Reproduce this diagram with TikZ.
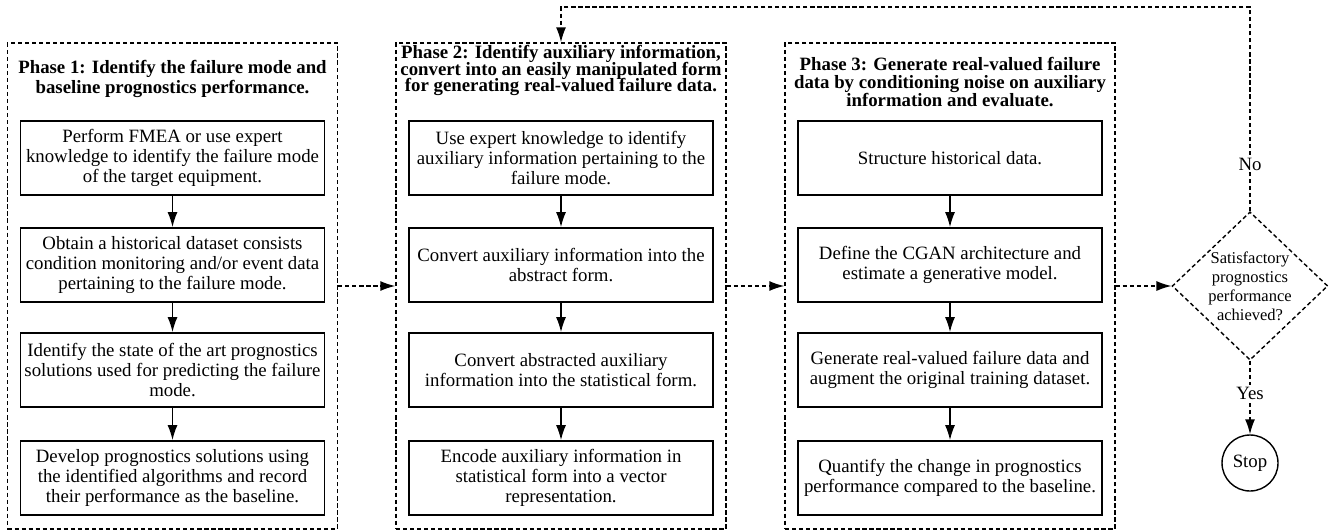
\documentclass[tikz,border=0pt]{standalone}
\usepackage{fontspec}
\setmainfont{Liberation Serif}
\usepackage{tikz}
\usetikzlibrary{shapes.geometric}
\usetikzlibrary{arrows.meta}
\newcommand{\tightskip}{\lineskiplimit=-5pt\relax}

\tikzset{
    phasebox/.style={draw, line width=0.8pt, dash pattern=on 2.4pt off 1.6pt,
        minimum width=6.6cm, minimum height=9.72cm},
    phasetitle/.style={align=center, inner sep=0pt},
    stepbox/.style={draw, line width=1pt, minimum width=6.08cm, minimum height=1.48cm,
        align=center, inner sep=0pt, font=\fontsize{10.7}{11.4}\selectfont},
    flowdash/.style={line width=0.8pt, dash pattern=on 2.4pt off 1.6pt},
    decision/.style={diamond, draw, flowdash, aspect=1.05, inner sep=0pt,
        align=center, font=\fontsize{9.4}{10.8}\selectfont},
    endstate/.style={circle, draw, line width=0.8pt, minimum size=1.12cm, inner sep=0pt,
        font=\fontsize{10.7}{12}\selectfont},
    answer/.style={fill=white, inner sep=1pt, font=\fontsize{10.7}{12}\selectfont}
}

\begin{document}
\begin{tikzpicture}[>={Latex[length=3mm,width=2mm]}, line width=0.8pt]
        \useasboundingbox (0, 0) rectangle (26.7, -10.62);

        % dashed phase frames
        \node[phasebox] (ph1) at (3.45, -5.72) {};
        \node[phasebox] (ph2) at (11.22, -5.72) {};
        \node[phasebox] (ph3) at (19.0, -5.72) {};

        \node[phasetitle, font=\bfseries\fontsize{10.7}{11.4}\selectfont] (t1) at (3.45, -1.58)
            {Phase 1: Identify the failure mode and\\baseline prognostics performance.};
        \node[phasetitle, font=\bfseries\fontsize{10.7}{9.2}\selectfont\tightskip] (t2) at (11.22, -1.41)
            {Phase 2: Identify auxiliary information,\\convert into an easily manipulated form\\for generating real-valued failure data.};
        \node[phasetitle, font=\bfseries\fontsize{10.7}{10.5}\selectfont\tightskip] (t3) at (19.0, -1.64)
            {Phase 3: Generate real-valued failure\\data by conditioning noise on auxiliary\\information and evaluate.};

        % phase 1
        \node[stepbox] (a1) at (3.45, -3.16) {Perform FMEA or use expert\\knowledge to identify the failure mode\\of the target equipment.};
        \node[stepbox] (a2) at (3.45, -5.30) {Obtain a historical dataset consists\\condition monitoring and/or event data\\pertaining to the failure mode.};
        \node[stepbox] (a3) at (3.45, -7.40) {Identify the state of the art prognostics\\solutions used for predicting the failure\\mode.};
        \node[stepbox] (a4) at (3.45, -9.56) {Develop prognostics solutions using\\the identified algorithms and record\\their performance as the baseline.};

        % phase 2
        \node[stepbox] (b1) at (11.22, -3.16) {Use expert knowledge to identify\\auxiliary information pertaining to the\\failure mode.};
        \node[stepbox] (b2) at (11.22, -5.30) {Convert auxiliary information into the\\abstract form.};
        \node[stepbox] (b3) at (11.22, -7.40) {Convert abstracted auxiliary\\information into the statistical form.};
        \node[stepbox] (b4) at (11.22, -9.56) {Encode auxiliary information in\\statistical form into a vector\\representation.};

        % phase 3
        \node[stepbox] (c1) at (19.0, -3.16) {Structure historical data.};
        \node[stepbox] (c2) at (19.0, -5.30) {Define the CGAN architecture and\\estimate a generative model.};
        \node[stepbox] (c3) at (19.0, -7.40) {Generate real-valued failure data and\\augment the original training dataset.};
        \node[stepbox] (c4) at (19.0, -9.56) {Quantify the change in prognostics\\performance compared to the baseline.};

        \node[decision] (chk) at (25.0, -5.72) {Satisfactory\\prognostics\\performance\\achieved?};
        \node[endstate] (stop) at (25.0, -9.26) {Stop};
        \coordinate (back) at (25.0, -0.14);

        \draw[->] (a1) -- (a2);
        \draw[->] (a2) -- (a3);
        \draw[->] (a3) -- (a4);

        \draw[->] (b1) -- (b2);
        \draw[->] (b2) -- (b3);
        \draw[->] (b3) -- (b4);

        \draw[->] (c1) -- (c2);
        \draw[->] (c2) -- (c3);
        \draw[->] (c3) -- (c4);

        \draw[flowdash, ->] (ph1) -- (ph2);
        \draw[flowdash, ->] (ph2) -- (ph3);
        \draw[flowdash, ->] (ph3) -- (chk);
        \draw[flowdash, ->] (chk) -- node[answer, pos=0.44] (yes) {Yes} (stop);
        \draw[flowdash, ->] (chk.north) -- node[answer, pos=0.23] (no) {No} (back) -| (ph2.north);
    \end{tikzpicture}
\end{document}
